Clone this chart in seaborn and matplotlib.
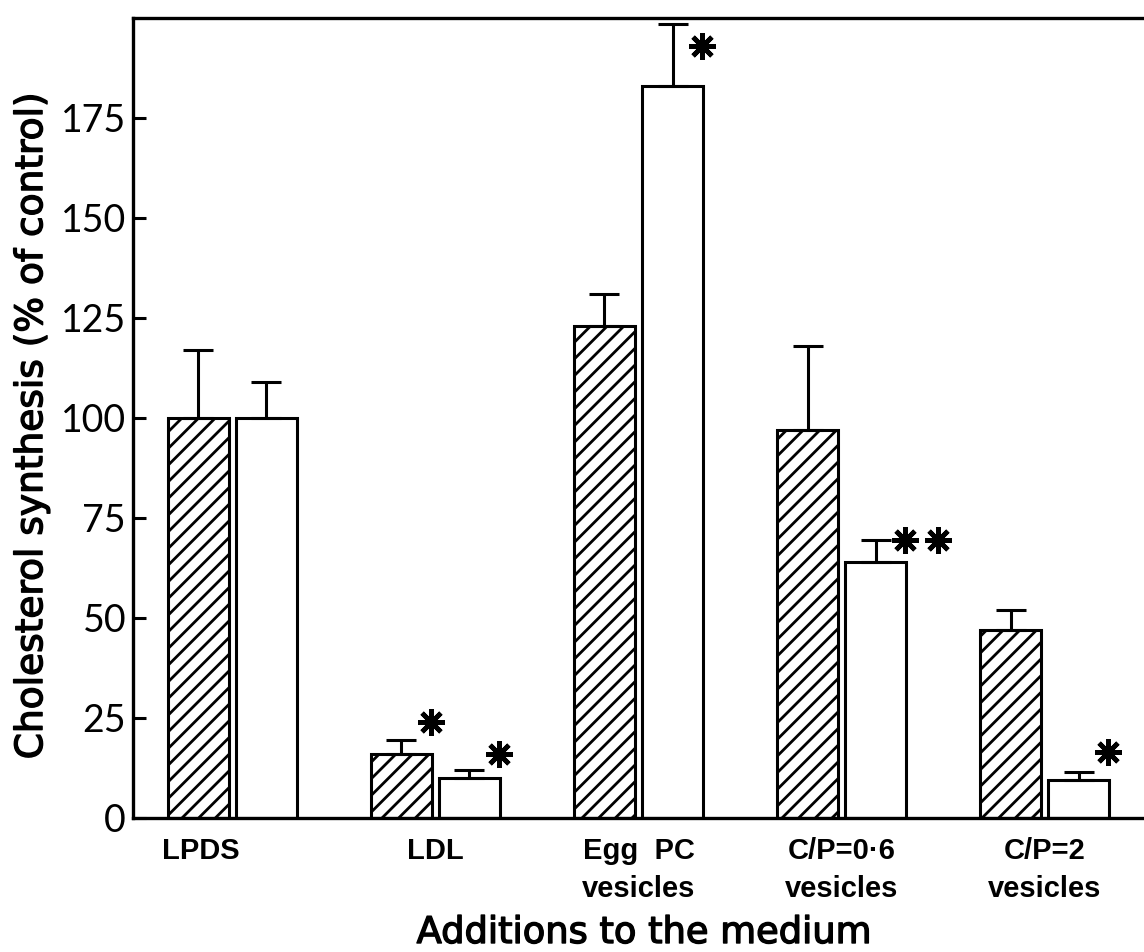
import numpy as np
import pandas as pd
import matplotlib
matplotlib.use("Agg")
import matplotlib.pyplot as plt
import matplotlib.transforms as mtransforms
import matplotlib.patheffects as pe
import seaborn as sns

# Groups along the x axis
categories = ["LPDS", "LDL", "Egg  PC\nvesicles", "C/P=0·6\nvesicles", "C/P=2\nvesicles"]
series_names = ["set 1", "set 2"]

# Mean values and upper error (SEM) for each series, % of control
set1_mean = [100, 16, 123, 97, 47]
set1_err = [17, 3.5, 8, 21, 5]
set2_mean = [100, 10, 183, 64, 9.5]
set2_err = [9, 2, 15.5, 5.5, 2]

# Significance marks: (group index, series index, height, number of stars)
stars = [(1, 0, 24, 1), (1, 1, 16, 1), (2, 1, 193, 1), (3, 1, 69.5, 2), (4, 1, 16.5, 1)]

y_ticks = [0, 25, 50, 75, 100, 125, 150, 175]

sns.set_theme(style="white")
plt.rcParams["font.family"] = ["Liberation Sans", "DejaVu Sans"]
plt.rcParams["hatch.linewidth"] = 2.0
plt.rcParams["hatch.color"] = "black"

df = pd.DataFrame({
    "addition": categories * 2,
    "series": [series_names[0]] * len(categories) + [series_names[1]] * len(categories),
    "value": set1_mean + set2_mean,
})

fig = plt.figure(figsize=(11.44, 9.52), dpi=100)
ax = fig.add_axes([133 / 1144, 1 - 818 / 952, 1 - 133 / 1144, 800 / 952])

sns.barplot(data=df, x="addition", y="value", hue="series",
            order=categories, hue_order=series_names,
            palette=["white", "white"], edgecolor="black", linewidth=2.2,
            width=0.67, gap=0.09, errorbar=None, legend=False, ax=ax)

# hatch the first series
for bar in ax.containers[0]:
    bar.set_hatch("//")

# one-sided error bars on top of each bar
for cont, means, errs in zip(ax.containers, [set1_mean, set2_mean], [set1_err, set2_err]):
    xs = [b.get_x() + b.get_width() / 2 for b in cont]
    ax.errorbar(xs, means, yerr=[np.zeros(len(errs)), errs], fmt="none",
                ecolor="black", elinewidth=2.2, capsize=11, capthick=2.2, zorder=3)

# significance asterisks
for gi, si, yv, n in stars:
    b = ax.containers[si][gi]
    x0 = b.get_x() + b.get_width() / 2 + 0.145
    for k in range(n):
        ax.plot(x0 + k * 0.163, yv, marker=(8, 2, 0), markersize=19,
                markeredgewidth=3.4, color="black", zorder=4)

ax.set_ylim(0, 200)
ax.set_xlim(-0.49, 4.49)
ax.set_yticks(y_ticks)

ax.tick_params(axis="y", direction="in", length=9, width=2.2, pad=5,
               colors="black", labelcolor="black", left=True)
ax.tick_params(axis="x", length=0, pad=14, colors="black", labelcolor="black")

ax.set_yticklabels([str(t) for t in y_ticks], fontsize=27, family=["Lato", "DejaVu Sans"],
                   color="black")
for lab in ax.get_xticklabels():
    lab.set_fontsize(21)
    lab.set_fontweight("bold")
    lab.set_linespacing(1.45)
    lab.set_color("black")

# the first group name sits slightly left of its bars
first = ax.get_xticklabels()[0]
first.set_transform(first.get_transform() +
                    mtransforms.ScaledTranslation(-0.32, 0, fig.dpi_scale_trans))

for side in ["left", "top", "bottom"]:
    ax.spines[side].set_linewidth(2.4)
    ax.spines[side].set_color("black")
ax.spines["right"].set_visible(False)

heavy = [pe.withStroke(linewidth=1.0, foreground="black")]
ax.set_ylabel("Cholesterol synthesis (% of control)", fontsize=27, color="black",
              family=["DejaVu Sans"], path_effects=heavy)
ax.yaxis.set_label_coords(-0.082, 0.49)
ax.set_xlabel("Additions to the medium", fontsize=26.5, color="black",
              family=["DejaVu Sans"], path_effects=heavy)
ax.xaxis.set_label_coords(0.505, -0.12)

fig.savefig("out.png", dpi=100)
